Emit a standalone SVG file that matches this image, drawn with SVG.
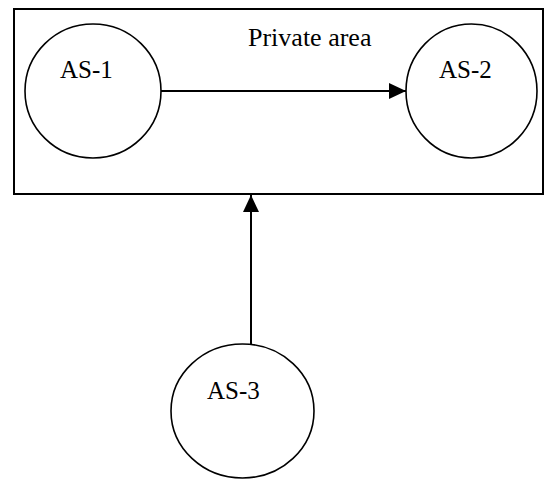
<svg xmlns="http://www.w3.org/2000/svg" width="545" height="480" viewBox="0 0 545 480">
  <style>
    .box { fill: none; stroke: #000; stroke-width: 2; }
    .node { fill: #fff; stroke: #000; stroke-width: 1.6; }
    .label { font-family: "Liberation Serif", "Times New Roman", serif; font-size: 25px; fill: #000; }
    .title { font-size: 26px; }
    .edge { stroke: #000; stroke-width: 2; fill: none; }
  </style>
  <defs>
    <marker id="arrow" markerUnits="userSpaceOnUse" markerWidth="18" markerHeight="16" refX="17" refY="8" orient="auto">
      <path d="M0,0 L17,8 L0,16 Z" fill="#000"/>
    </marker>
  </defs>
  <g id="private-area">
    <rect class="box" x="14" y="9" width="529" height="185"/>
    <text class="label title" x="248" y="46">Private area</text>
  </g>
  <g id="as1">
    <ellipse class="node" cx="93" cy="91" rx="68" ry="67"/>
    <text class="label" x="60" y="78">AS-1</text>
  </g>
  <g id="as2">
    <ellipse class="node" cx="471.5" cy="91" rx="65.5" ry="67"/>
    <text class="label" x="439" y="78">AS-2</text>
  </g>
  <g id="as3">
    <ellipse class="node" cx="242.5" cy="411" rx="71.5" ry="67"/>
    <text class="label" x="207" y="399">AS-3</text>
  </g>
  <g id="connectors">
    <line class="edge" x1="161" y1="91" x2="406" y2="91" marker-end="url(#arrow)"/>
    <line class="edge" x1="251" y1="344" x2="251" y2="195" marker-end="url(#arrow)"/>
  </g>
</svg>
